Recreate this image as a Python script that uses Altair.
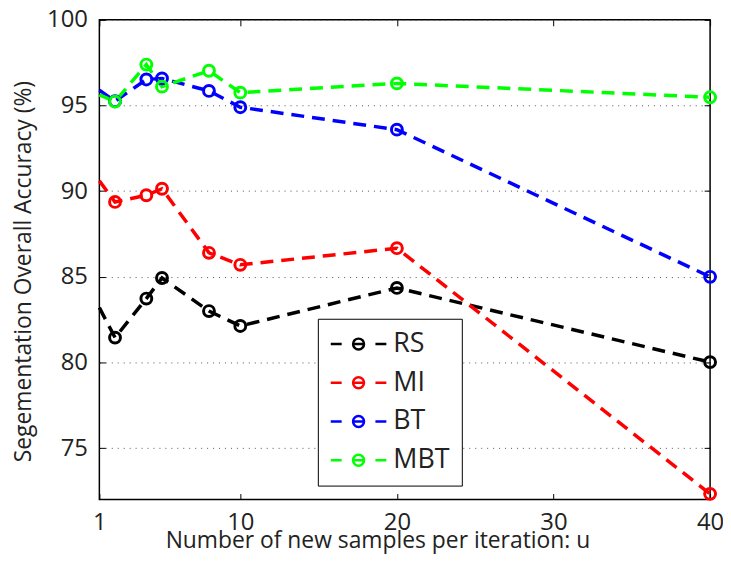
import altair as alt
import pandas as pd

# ---- data ----
u_values = [1, 2, 4, 5, 8, 10, 20, 40]
rs_acc = [83.2, 81.45, 83.73, 84.93, 83.0, 82.13, 84.35, 80.02]
mi_acc = [90.6, 89.37, 89.76, 90.14, 86.40, 85.70, 86.67, 72.33]
bt_acc = [95.9, 95.25, 96.52, 96.58, 95.85, 94.90, 93.59, 85.0]
mbt_acc = [95.62, 95.23, 97.39, 96.10, 97.03, 95.75, 96.29, 95.48]

methods = ["RS", "MI", "BT", "MBT"]
method_colors = ["#000000", "#ff0000", "#0000ff", "#00ff00"]
x_ticks = [1, 10, 20, 30, 40]
y_ticks = [75, 80, 85, 90, 95, 100]

rows = []
for name, vals in zip(methods, [rs_acc, mi_acc, bt_acc, mbt_acc]):
    for uu, v in zip(u_values, vals):
        rows.append({"u": uu, "acc": v, "method": name})
df = pd.DataFrame(rows)

FONT = "Open Sans"
TXT = "#222222"
xscale = alt.Scale(domain=[1, 40], nice=False, zero=False)
yscale = alt.Scale(domain=[72, 100], nice=False, zero=False)
cscale = alt.Scale(domain=methods, range=method_colors)
# same mapping, listed in reverse so that the (hidden) stroke legend is not merged with the colour legend
sscale = alt.Scale(domain=methods[::-1], range=method_colors[::-1])

# legend symbol: dash - circle(with dash) - dash, in pixel units (symbolSize=4 -> scale 1)
legend_path = ("M-12.5,0L-1.5,0M10.5,0L20.5,0M32.5,0L43.5,0"
               "M10,0A5.5,5.5 0 1,1 21,0A5.5,5.5 0 1,1 10,0")

base = alt.Chart(df)

lines = base.mark_line(strokeWidth=3.5, strokeDash=[13, 8]).encode(
    x=alt.X("u:Q", scale=xscale, title="Number of new samples per iteration: u",
            axis=alt.Axis(orient="bottom", values=x_ticks, ticks=False, tickSize=0,
                          domain=False, grid=False, labelFont=FONT, labelFontSize=24,
                          labelColor=TXT, labelPadding=11, labelFlush=False,
                          titleFont=FONT, titleFontSize=23, titleFontWeight="normal",
                          titleColor=TXT, titleX=280, titleY=48, titleAlign="center",
                          titleBaseline="alphabetic")),
    y=alt.Y("acc:Q", scale=yscale, title="Segementation Overall Accuracy (%)",
            axis=alt.Axis(orient="left", values=y_ticks, ticks=False, tickSize=0,
                          domain=False, grid=True, gridColor="#555555", gridDash=[1, 5],
                          gridWidth=1, labelFont=FONT, labelFontSize=24, labelColor=TXT,
                          labelPadding=12, labelFlush=False,
                          titleFont=FONT, titleFontSize=23, titleFontWeight="normal",
                          titleColor=TXT, titleX=-69.5, titleY=253, titleAlign="center",
                          titleBaseline="alphabetic", titleAngle=270)),
    stroke=alt.Stroke("method:N", scale=sscale, legend=None),
)

points = base.transform_filter("datum.u > 1").mark_point(
    shape="circle", size=120, strokeWidth=3, filled=False, opacity=1
).encode(
    x=alt.X("u:Q", scale=xscale, title=None,
            axis=alt.Axis(orient="bottom", values=x_ticks, offset=-6, tickSize=6,
                          labels=False, domain=False, grid=False, tickColor="#000000",
                          tickWidth=1)),
    y=alt.Y("acc:Q", scale=yscale, title=None,
            axis=alt.Axis(orient="left", values=y_ticks, offset=-6, tickSize=6,
                          labels=False, domain=False, grid=False, tickColor="#000000",
                          tickWidth=1)),
    color=alt.Color("method:N", scale=cscale,
                    legend=alt.Legend(title=None, orient="none", legendX=220, legendY=301,
                                      symbolType=legend_path, symbolSize=4,
                                      symbolStrokeWidth=2.5, symbolFillColor="transparent",
                                      labelOffset=37, labelFont=FONT, labelFontSize=27,
                                      labelColor=TXT, rowPadding=11, padding=12,
                                      strokeColor="#000000", fillColor="#ffffff",
                                      labelExpr="datum.label + '   '")),
)

ghost = base.mark_point(opacity=0).encode(
    x=alt.X("u:Q", scale=xscale, title=None,
            axis=alt.Axis(orient="top", values=x_ticks, offset=-6, tickSize=6,
                          labels=False, domain=False, grid=False, tickColor="#000000",
                          tickWidth=1)),
    y=alt.Y("acc:Q", scale=yscale, title=None,
            axis=alt.Axis(orient="right", values=y_ticks, offset=-6, tickSize=6,
                          labels=False, domain=False, grid=False, tickColor="#000000",
                          tickWidth=1)),
)

chart = alt.layer(lines, points, ghost).resolve_axis(
    x="independent", y="independent"
).properties(
    width=615, height=483,
    autosize=alt.AutoSizeParams(type="none"),
    padding={"left": 92, "top": 10, "right": 13, "bottom": 60},
    background="#ffffff",
).configure_view(stroke="#000000", strokeWidth=1.5)

chart.save("out.html", embed_options={"renderer": "svg", "actions": False})
